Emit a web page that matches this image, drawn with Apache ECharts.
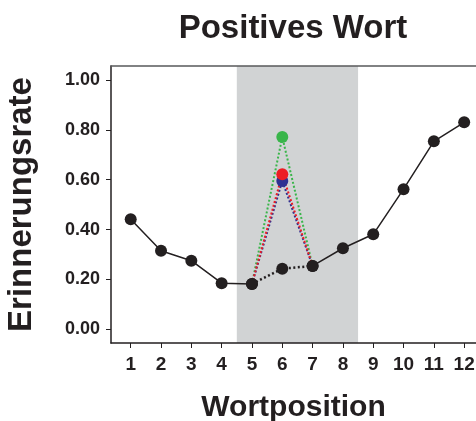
<!DOCTYPE html>
<html>
<head>
<meta charset="utf-8">
<script src="https://cdn.jsdelivr.net/npm/echarts@6/dist/echarts.min.js"></script>
<style>html,body{margin:0;padding:0;background:#fff;}#c{width:476px;height:421px;}</style>
</head>
<body>
<div id="c"></div>
<script>
const positions = [1, 2, 3, 4, 5, 6, 7, 8, 9, 10, 11, 12];
const xTicks = [1, 2, 3, 4, 5, 6, 7, 8, 9, 10, 11, 12];
const yTicks = [0, 0.2, 0.4, 0.6, 0.8, 1.0];
const blackRates = [0.441, 0.315, 0.275, 0.185, 0.182, 0.243, 0.254, 0.325, 0.381, 0.562, 0.754, 0.830];
const peakNames = ['Grün', 'Blau', 'Rot'];
const peakValues = [0.771, 0.595, 0.622];
const peakColors = ['#39b54a', '#2e3192', '#ed1c24'];
const bandRange = [4.5, 8.5];

const FONT = '"Liberation Sans", Arial, Helvetica, sans-serif';
const INK = '#231f20';

function pts(from, to) {
  const out = [];
  for (let i = 0; i < positions.length; i++) {
    if (positions[i] >= from && positions[i] <= to) out.push([positions[i], blackRates[i]]);
  }
  return out;
}

const series = [];
series.push({
  type: 'line', data: [], silent: true, z: 1,
  markArea: {
    silent: true,
    itemStyle: { color: '#d1d3d4' },
    data: [[{ xAxis: bandRange[0] }, { xAxis: bandRange[1] }]]
  }
});
peakNames.forEach((n, k) => {
  const i5 = positions.indexOf(5), i7 = positions.indexOf(7);
  series.push({
    name: n, type: 'line', z: 3,
    data: [
      { value: [5, blackRates[i5]], symbolSize: 0 },
      { value: [6, peakValues[k]], symbolSize: 12 },
      { value: [7, blackRates[i7]], symbolSize: 0 }
    ],
    symbol: 'circle',
    lineStyle: { color: peakColors[k], width: 2, type: [2, 2] },
    itemStyle: { color: peakColors[k] }
  });
});
const blackParts = [[1, 5, 'solid'], [5, 7, 'dotted'], [7, 12, 'solid']];
blackParts.forEach(p => {
  series.push({
    type: 'line', z: 5,
    data: pts(p[0], p[1]),
    symbol: 'circle', symbolSize: 12,
    lineStyle: { color: INK, width: p[2] === 'solid' ? 1.5 : 2.5, type: p[2] === 'solid' ? 'solid' : [2, 2.5] },
    itemStyle: { color: INK }
  });
});

const chart = echarts.init(document.getElementById('c'));
chart.setOption({
  animation: false,
  backgroundColor: '#fff',
  title: {
    text: 'Positives Wort', left: 288, top: 7, textAlign: 'center',
    textStyle: { fontFamily: FONT, fontWeight: 'bold', fontSize: 33, color: INK }
  },
  grid: { left: 111, right: 0, top: 66, bottom: 78, containLabel: false, outerBoundsMode: 'none' },
  xAxis: [{
    type: 'value', min: 0.35, max: 12.39, z: 10, position: 'bottom',
    name: 'Wortposition', nameLocation: 'middle', nameGap: 50,
    nameTextStyle: { fontFamily: FONT, fontWeight: 'bold', fontSize: 30, color: INK },
    axisLine: { show: true, onZero: false, lineStyle: { color: INK, width: 1.5 } },
    axisTick: { show: true, length: 5, lineStyle: { color: INK, width: 1 }, customValues: xTicks },
    axisLabel: { customValues: xTicks, margin: 12, fontFamily: FONT, fontWeight: 'bold', fontSize: 19, color: INK },
    splitLine: { show: false }
  }, {
    type: 'value', position: 'top', min: 0.35, max: 12.39, z: 10,
    axisLine: { show: true, onZero: false, lineStyle: { color: '#58595b', width: 1.5 } },
    axisTick: { show: false }, axisLabel: { show: false }, splitLine: { show: false }
  }],
  yAxis: {
    type: 'value', min: -0.055, max: 1.056, z: 10, position: 'left',
    name: 'Erinnerungsrate', nameLocation: 'middle', nameGap: 73,
    nameTextStyle: { fontFamily: FONT, fontWeight: 'bold', fontSize: 33, color: INK },
    axisLine: { show: true, onZero: false, lineStyle: { color: INK, width: 1.5 } },
    axisTick: { show: true, length: 5, lineStyle: { color: INK, width: 1 }, customValues: yTicks },
    axisLabel: { customValues: yTicks, margin: 11, formatter: v => v.toFixed(2), fontFamily: FONT, fontWeight: 'bold', fontSize: 18, color: INK },
    splitLine: { show: false }
  },
  series: series
});
</script>
</body>
</html>
